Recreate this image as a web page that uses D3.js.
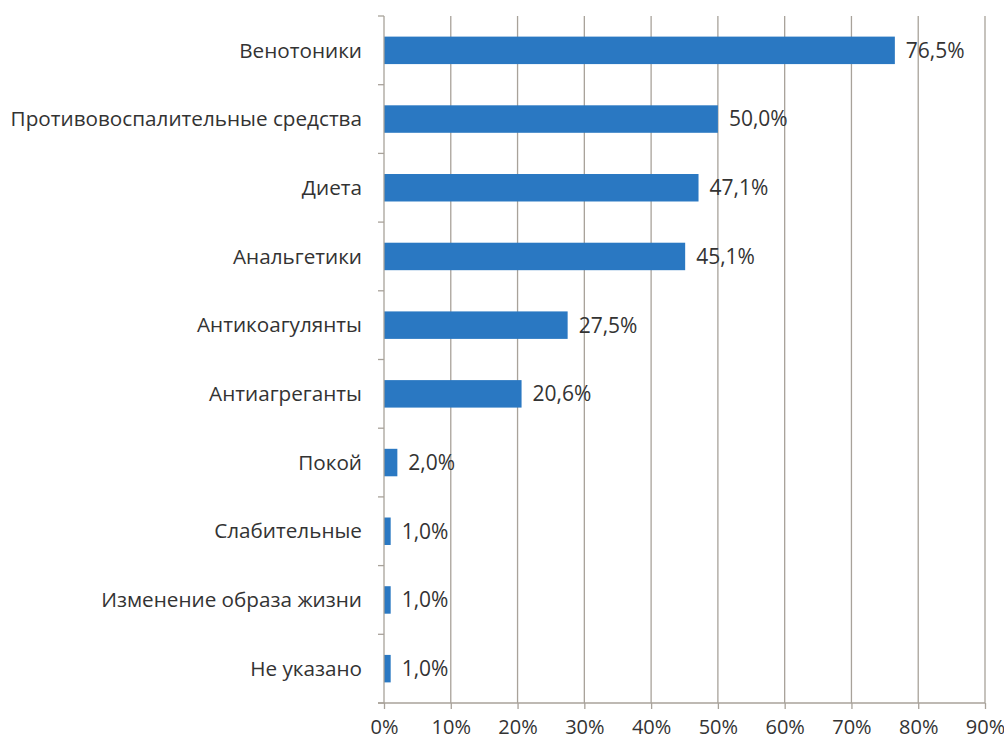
<!DOCTYPE html>
<html>
<head>
<meta charset="utf-8">
<script src="https://cdnjs.cloudflare.com/ajax/libs/d3/7.8.5/d3.min.js"></script>
<style>
  html, body { margin: 0; padding: 0; background: #fff; }
  svg text { font-family: "Open Sans", "Noto Sans", sans-serif; fill: #333; }
</style>
</head>
<body>
<svg id="chart" width="1004" height="748"></svg>
<script>
// Treatment categories and share of respondents (%)
const categories = [
  "Венотоники",
  "Противовоспалительные средства",
  "Диета",
  "Анальгетики",
  "Антикоагулянты",
  "Антиагреганты",
  "Покой",
  "Слабительные",
  "Изменение образа жизни",
  "Не указано"
];
const values = [76.5, 50.0, 47.1, 45.1, 27.5, 20.6, 2.0, 1.0, 1.0, 1.0];
const xTicks = [0, 10, 20, 30, 40, 50, 60, 70, 80, 90];

const svg = d3.select("#chart");
const margin = { left: 384, right: 19, top: 16, bottom: 45 };
const W = 1004, H = 748;

const x = d3.scaleLinear().domain([0, 90]).range([margin.left, W - margin.right]);
const y = d3.scaleBand().domain(categories).range([margin.top, H - margin.bottom])
  .paddingInner(0.6).paddingOuter(0.3);

const gridColor = "#a8a29a";

// vertical gridlines
svg.append("g").selectAll("line").data(xTicks.slice(1)).join("line")
  .attr("x1", d => x(d)).attr("x2", d => x(d))
  .attr("y1", margin.top).attr("y2", H - margin.bottom)
  .attr("stroke", gridColor).attr("stroke-width", 1.3);

// bars
svg.append("g").selectAll("rect").data(values).join("rect")
  .attr("x", x(0))
  .attr("y", (d, i) => y(categories[i]))
  .attr("width", d => x(d) - x(0))
  .attr("height", y.bandwidth())
  .attr("fill", "#2a78c2");

// value labels
const fmt = v => v.toFixed(1).replace(".", ",") + "%";
svg.append("g").selectAll("text").data(values).join("text")
  .attr("x", d => x(d) + 11)
  .attr("y", (d, i) => y(categories[i]) + y.bandwidth() / 2)
  .attr("dy", "0.35em")
  .attr("font-size", 21)
  .text(fmt);

// y axis (category boundaries as small ticks)
const bandStep = y.step();
const yBase = y.range()[0];
const boundaries = d3.range(categories.length + 1).map(i => yBase + i * bandStep);
const ax = svg.append("g");
ax.append("line")
  .attr("x1", x(0)).attr("x2", x(0))
  .attr("y1", margin.top).attr("y2", H - margin.bottom)
  .attr("stroke", gridColor).attr("stroke-width", 1.3);
ax.selectAll(".yt").data(boundaries).join("line")
  .attr("x1", x(0) - 6).attr("x2", x(0))
  .attr("y1", d => d).attr("y2", d => d)
  .attr("stroke", gridColor).attr("stroke-width", 1.3);
ax.selectAll(".cl").data(categories).join("text")
  .attr("x", x(0) - 22)
  .attr("y", d => y(d) + y.bandwidth() / 2)
  .attr("dy", "0.35em")
  .attr("text-anchor", "end")
  .attr("font-size", 20.7)
  .text(d => d);

// x axis
const xAxis = d3.axisBottom(x).tickValues(xTicks).tickSize(6).tickFormat(d => d + "%");
const gx = svg.append("g").attr("transform", `translate(0,${H - margin.bottom})`).call(xAxis);
gx.select(".domain").attr("stroke", gridColor).attr("stroke-width", 1.3)
  .attr("d", `M${x(0) - 6},0H${x(90)}`);
gx.selectAll(".tick line").attr("stroke", gridColor).attr("stroke-width", 1.3);
gx.selectAll(".tick text").attr("font-size", 20).attr("dy", "1.1em")
  .style("font-family", "'Open Sans', sans-serif").attr("fill", "#333");
</script>
</body>
</html>
